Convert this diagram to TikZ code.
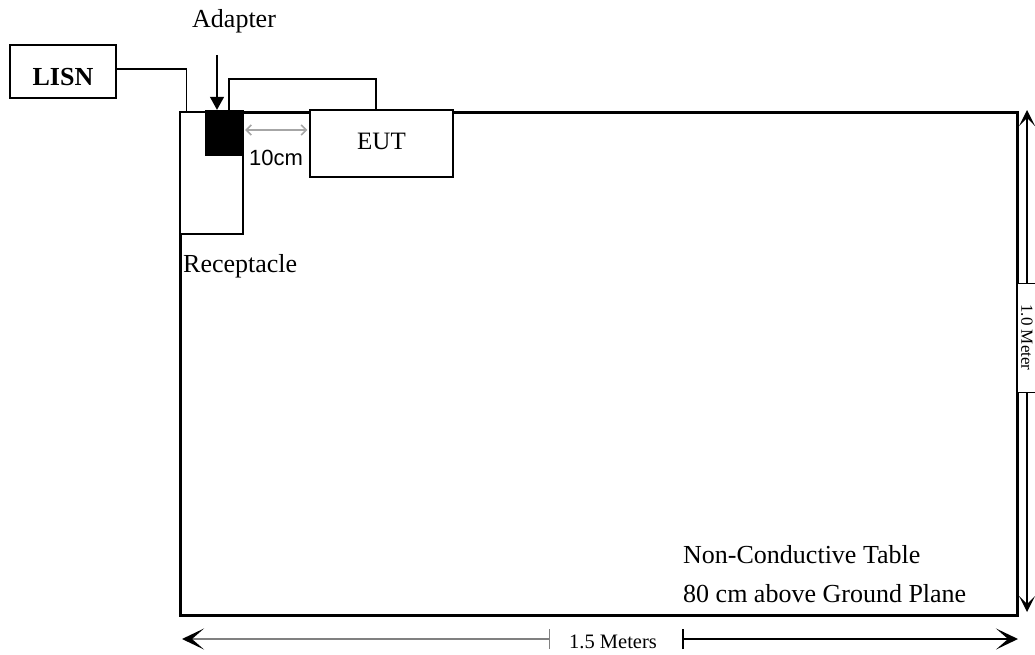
\documentclass[tikz,border=0pt]{standalone}
\usepackage{fontspec}
\setmainfont{Liberation Serif}
\newfontfamily\labelsans{Liberation Sans}
\usetikzlibrary{arrows.meta}
\tikzset{
  wire/.style  = {line width=1.5pt},
  partbox/.style = {draw, line width=1.5pt, inner sep=0pt, fill=white},
  tablebox/.style = {draw, line width=3pt, inner sep=0pt},
  plugbox/.style = {draw, fill=black, inner sep=0pt},
  txt/.style   = {font=\fontsize{26}{30}\selectfont, inner sep=0pt, anchor=base west},
  dimtxt/.style = {font=\fontsize{20.5}{24}\selectfont, inner sep=0pt},
  pointer/.style = {-{Triangle[length=13pt, width=14pt]}, line width=1.5pt},
  gap/.style   = {{Straight Barb[length=5pt, width=10pt]}-{Straight Barb[length=5pt, width=10pt]},
                  draw=black!35, line width=1.5pt, shorten >=2pt},
  dimline/.style = {line width=1.5pt},
  hdim/.style  = {dimline, {Bar[width=20pt]}-{Stealth[length=22pt, width=21pt, inset=12pt, color=black]}},
  vdim/.style  = {dimline, -{Stealth[length=16pt, width=16pt, inset=8pt]}},
}
\begin{document}
\begin{tikzpicture}[x=1pt, y=-1pt]
  \useasboundingbox (0,0) rectangle (1035,655);
  % table and parts on it
  \node[tablebox, minimum width=837pt, minimum height=502pt] (table) at (598.5,364) {};
  \node[partbox, minimum width=63pt, minimum height=122pt] (recep) at (211.5,173) {};
  \node[plugbox, minimum width=38pt, minimum height=45pt] (plug) at (224,132.5) {};
  \node[partbox, minimum width=143pt, minimum height=67pt,
        font=\fontsize{25}{30}\selectfont, text height=18pt, text depth=5pt] (eut)
    at (381.5,143.5) {EUT};
  \node[partbox, minimum width=106pt, minimum height=53pt,
        font=\bfseries\fontsize{26}{30}\selectfont, text height=29pt, text depth=0pt] (lisn)
    at (63,71.5) {LISN};
  % labels
  \node[txt] (adlbl) at (192,28) {Adapter};
  \node[txt] (reclbl) at (183,272) {Receptacle};
  \node[txt, font=\labelsans\fontsize{22}{26}\selectfont] (gaplbl) at (249,166) {10cm};
  \node[txt] (tbl1) at (683,563) {Non-Conductive Table};
  \node[txt] (tbl2) at (683,602) {80 cm above Ground Plane};
  \node[dimtxt, anchor=base west] (hlbl) at (569,648) {1.5 Meters};
  \node[dimtxt, font=\fontsize{17}{20}\selectfont, draw, fill=white, line width=1pt,
        rotate=-90, minimum width=109pt, minimum height=30pt] (vlbl) at (1032,337.5) {};
  \node[dimtxt, font=\fontsize{17}{20}\selectfont, rotate=-90] (vtxt) at (1027,337.5) {1.0 Meter};
  % cables
  \draw[wire] ([yshift=2.5pt]lisn.east) -| ([xshift=7pt]recep.north west);
  \draw[wire] ([xshift=5pt]plug.north) -- ++(0,-31) -| ([xshift=-5.5pt]eut.north);
  \draw[pointer] ([xshift=-7pt, yshift=55pt]plug.north) -- ([xshift=-7pt]plug.north);
  \coordinate (gapL) at ([xshift=2pt, yshift=2.5pt]plug.east);
  \draw[gap] (gapL) -- (eut.west |- gapL);
  % dimensions
  \coordinate (hl) at (182,639);
  \coordinate (hr) at (1018,639);
  \coordinate (vtop) at (1027,110);
  \coordinate (vbot) at (1027,612);
  \draw[hdim, draw=black!50] (550,639) -- (hl);
  \draw[hdim] (682,639) -- (hr);
  \draw[vdim] (vlbl.west -| vtop) -- (vtop);
  \draw[vdim] (vlbl.east -| vbot) -- (vbot);
\end{tikzpicture}
\end{document}
